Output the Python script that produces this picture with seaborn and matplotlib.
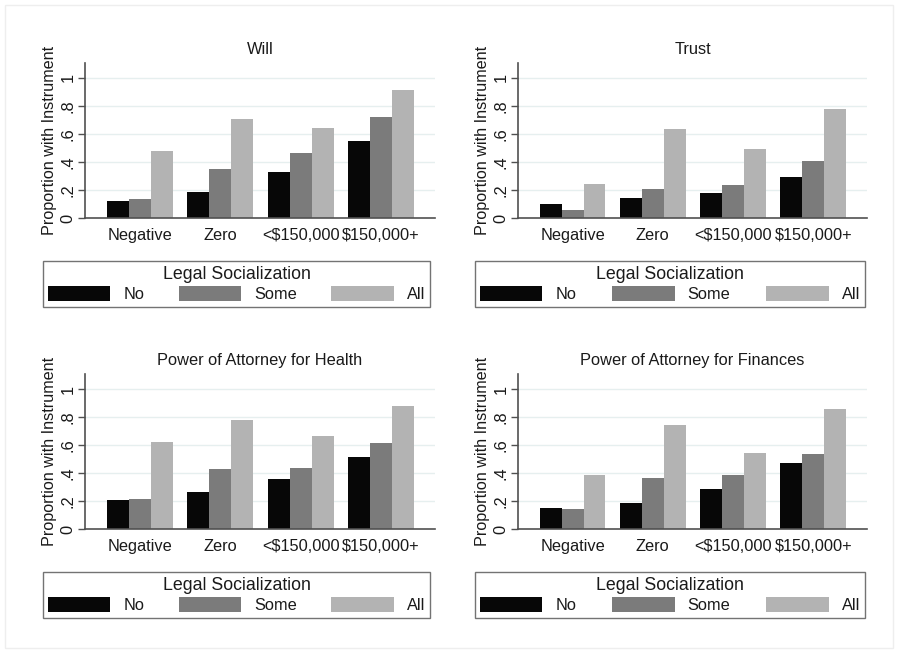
import numpy as np
import pandas as pd
import matplotlib
matplotlib.use("Agg")
import matplotlib.pyplot as plt
import matplotlib.patches as mpatches
import seaborn as sns

sns.set_theme(style="white")
plt.rcParams["font.family"] = ["Liberation Sans", "DejaVu Sans"]
plt.rcParams["text.color"] = "#1a1a1a"
plt.rcParams["xtick.color"] = "#1a1a1a"
plt.rcParams["ytick.color"] = "#1a1a1a"
plt.rcParams["axes.labelcolor"] = "#1a1a1a"

wealth = ["Negative", "Zero", "<$150,000", "$150,000+"]
socialization = ["No", "Some", "All"]
y_ticks = [0, 0.2, 0.4, 0.6, 0.8, 1.0]
y_tick_labels = ["0", ".2", ".4", ".6", ".8", "1"]

will_no = [0.124, 0.186, 0.329, 0.548]
will_some = [0.138, 0.350, 0.464, 0.719]
will_all = [0.481, 0.707, 0.645, 0.917]

trust_no = [0.098, 0.145, 0.179, 0.295]
trust_some = [0.055, 0.210, 0.236, 0.410]
trust_all = [0.243, 0.633, 0.490, 0.776]

health_no = [0.207, 0.262, 0.355, 0.517]
health_some = [0.212, 0.431, 0.436, 0.617]
health_all = [0.621, 0.781, 0.667, 0.881]

finance_no = [0.150, 0.183, 0.288, 0.471]
finance_some = [0.143, 0.364, 0.388, 0.536]
finance_all = [0.383, 0.743, 0.540, 0.857]

panels = [
    ("Will", will_no, will_some, will_all),
    ("Trust", trust_no, trust_some, trust_all),
    ("Power of Attorney for Health", health_no, health_some, health_all),
    ("Power of Attorney for Finances", finance_no, finance_some, finance_all),
]

colors = {"No": "#070707", "Some": "#7b7b7b", "All": "#b3b3b3"}
spine_color = "#505050"
grid_color = "#e6efef"
fs = 11.8

W, H = 898, 653
fig = plt.figure(figsize=(W / 100, H / 100), dpi=100)
fig.patch.set_facecolor("white")

# axes rectangles in figure fractions: left, bottom, width, height
ax_rects = [
    (85 / W, 1 - 218 / H, 350 / W, 155.4 / H),
    (518 / W, 1 - 218 / H, 349 / W, 155.4 / H),
    (85 / W, 1 - 529 / H, 350 / W, 155.4 / H),
    (518 / W, 1 - 529 / H, 349 / W, 155.4 / H),
]
# legend boxes in figure fractions: x0, y0, width, height
leg_rects = [
    (43 / W, 1 - 307 / H, 387 / W, 57 / H),
    (475 / W, 1 - 307 / H, 390 / W, 57 / H),
    (43 / W, 1 - 618 / H, 387 / W, 56 / H),
    (475 / W, 1 - 618 / H, 390 / W, 56 / H),
]

for (title, no, some, al), rect, lrect in zip(panels, ax_rects, leg_rects):
    df = pd.DataFrame({
        "Wealth": wealth * 3,
        "Legal Socialization": ["No"] * 4 + ["Some"] * 4 + ["All"] * 4,
        "Proportion": list(no) + list(some) + list(al),
    })
    ax = fig.add_axes(rect)
    for yv in y_ticks[1:]:
        ax.axhline(yv, color=grid_color, lw=1.0, zorder=0)
    sns.barplot(data=df, x="Wealth", y="Proportion", hue="Legal Socialization",
                order=wealth, hue_order=socialization, palette=colors,
                width=0.82, saturation=1, edgecolor="none", linewidth=0,
                errorbar=None, legend=False, ax=ax, zorder=2)
    ax.set_xlim(-0.68, 3.67)
    ax.set_ylim(0, 1.11)
    ax.set_yticks(y_ticks)
    ax.set_yticklabels(y_tick_labels, rotation=90, va="center", fontsize=fs)
    ax.tick_params(axis="y", left=True, length=5, width=1, color=spine_color, pad=2)
    ax.tick_params(axis="x", bottom=False, length=0, labelsize=fs, pad=15.5)
    for lbl in ax.get_xticklabels():
        lbl.set_verticalalignment("baseline")
    ax.set_xlabel("")
    ax.set_ylabel("Proportion with Instrument", fontsize=fs - 0.2, labelpad=2)
    ax.set_title(title, fontsize=fs, pad=6)
    for side in ["top", "right"]:
        ax.spines[side].set_visible(False)
    for side in ["left", "bottom"]:
        ax.spines[side].set_color(spine_color)
        ax.spines[side].set_linewidth(1.2)
    ax.set_facecolor("none")

    handles = [mpatches.Patch(facecolor=colors[s], edgecolor="none", label=s)
               for s in socialization]
    leg = fig.legend(handles=handles, loc="lower left", bbox_to_anchor=lrect,
                     mode="expand", ncol=3, title="Legal Socialization",
                     fontsize=fs, title_fontsize=fs + 1, frameon=True,
                     fancybox=False, edgecolor=spine_color, borderaxespad=0,
                     handlelength=3.8, handleheight=1.0, handletextpad=0.8,
                     borderpad=0.3, labelspacing=0.2)
    leg.get_frame().set_linewidth(1.0)

fig.patches.append(mpatches.Rectangle((5 / W, 5 / H), 1 - 10 / W, 1 - 10 / H,
                                      transform=fig.transFigure, fill=False,
                                      edgecolor="#eeeeee", lw=1))

fig.savefig("out.png", dpi=100, facecolor="white")
